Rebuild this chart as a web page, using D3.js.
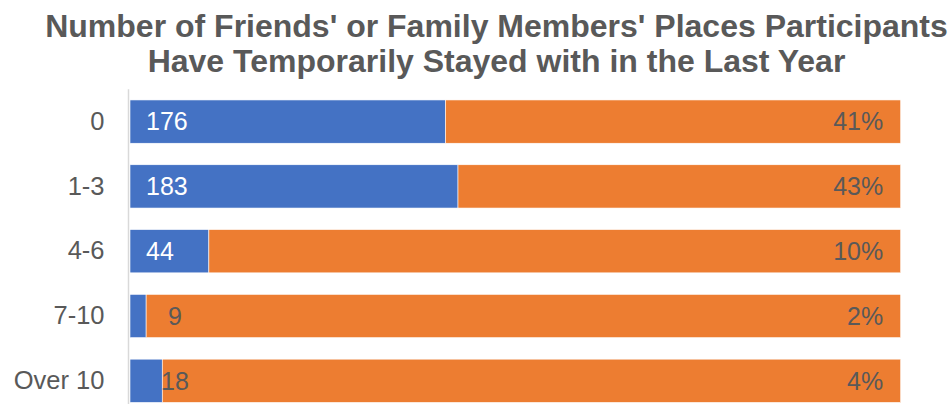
<!DOCTYPE html>
<html>
<head>
<meta charset="utf-8">
<script src="https://cdn.jsdelivr.net/npm/d3@7"></script>
<style>
  html, body { margin: 0; padding: 0; background: #fff; }
  svg { display: block; font-family: "Liberation Sans", Arial, sans-serif; }
</style>
</head>
<body>
<div id="chart"></div>
<script>
// Responses: how many friends' / family members' places someone stayed with
const categories = ["0", "1-3", "4-6", "7-10", "Over 10"];
const counts = [176, 183, 44, 9, 18];
const percentLabels = ["41%", "43%", "10%", "2%", "4%"];
const titleLines = [
  "Number of Friends' or Family Members' Places Participants",
  "Have Temporarily Stayed with in the Last Year"
];

const width = 951, height = 404;
const total = d3.sum(counts);

const svg = d3.select("#chart").append("svg")
  .attr("width", width).attr("height", height);

const x = d3.scaleLinear().domain([0, total]).range([130, 900.7]);
const y = d3.scaleBand().domain(categories).range([89.2, 413.2])
  .paddingInner(0.332).paddingOuter(0.166);

const rows = categories.map((c, i) => ({ cat: c, count: counts[i], rest: total - counts[i], pct: percentLabels[i] }));
const stack = d3.stack().keys(["count", "rest"])(rows);
const colors = { count: "#4472C4", rest: "#ED7D31" };

// Title
svg.append("g").selectAll("text").data(titleLines).join("text")
  .attr("x", 496.5)
  .attr("y", (d, i) => 37 + i * 34.5)
  .attr("text-anchor", "middle")
  .attr("font-size", 32)
  .attr("font-weight", "bold")
  .attr("fill", "#595959")
  .text(d => d);

// Stacked bars
svg.append("g").selectAll("g").data(stack).join("g")
  .attr("fill", d => colors[d.key])
  .selectAll("rect").data(d => d).join("rect")
  .attr("x", d => x(d[0]))
  .attr("y", d => y(d.data.cat))
  .attr("width", d => x(d[1]) - x(d[0]))
  .attr("height", y.bandwidth())
  .attr("stroke", "#fff")
  .attr("stroke-width", 0.6);

// Category axis
const yAxis = svg.append("g")
  .attr("transform", "translate(128.5,0)")
  .call(d3.axisLeft(y).tickSize(0).tickPadding(24));
yAxis.select(".domain").attr("stroke", "#d9d9d9").attr("stroke-width", 1.5)
  .attr("d", `M0,89.2V${height}`);
yAxis.selectAll("text")
  .attr("font-size", 25.5)
  .attr("font-family", "Liberation Sans, Arial, sans-serif")
  .attr("fill", "#595959");

// Count labels: inside the blue segment when they fit, otherwise set next to it
const labelSize = 25;
svg.append("g").selectAll("text").data(rows).join("text")
  .attr("font-size", labelSize)
  .attr("dy", "0.35em")
  .attr("y", d => y(d.cat) + y.bandwidth() / 2)
  .each(function (d) {
    const t = d3.select(this).text(d.count);
    const segW = x(d.count) - x(0);
    if (segW > 60) {
      t.attr("x", x(0) + 16).attr("text-anchor", "start").attr("fill", "#ffffff");
    } else {
      t.attr("x", x(0) + 45).attr("text-anchor", "middle").attr("fill", "#595959");
    }
  });

// Share labels at the end of each bar
svg.append("g").selectAll("text").data(rows).join("text")
  .attr("font-size", labelSize)
  .attr("dy", "0.35em")
  .attr("x", x(total) - 17.5)
  .attr("y", d => y(d.cat) + y.bandwidth() / 2)
  .attr("text-anchor", "end")
  .attr("fill", "#595959")
  .text(d => d.pct);
</script>
</body>
</html>
